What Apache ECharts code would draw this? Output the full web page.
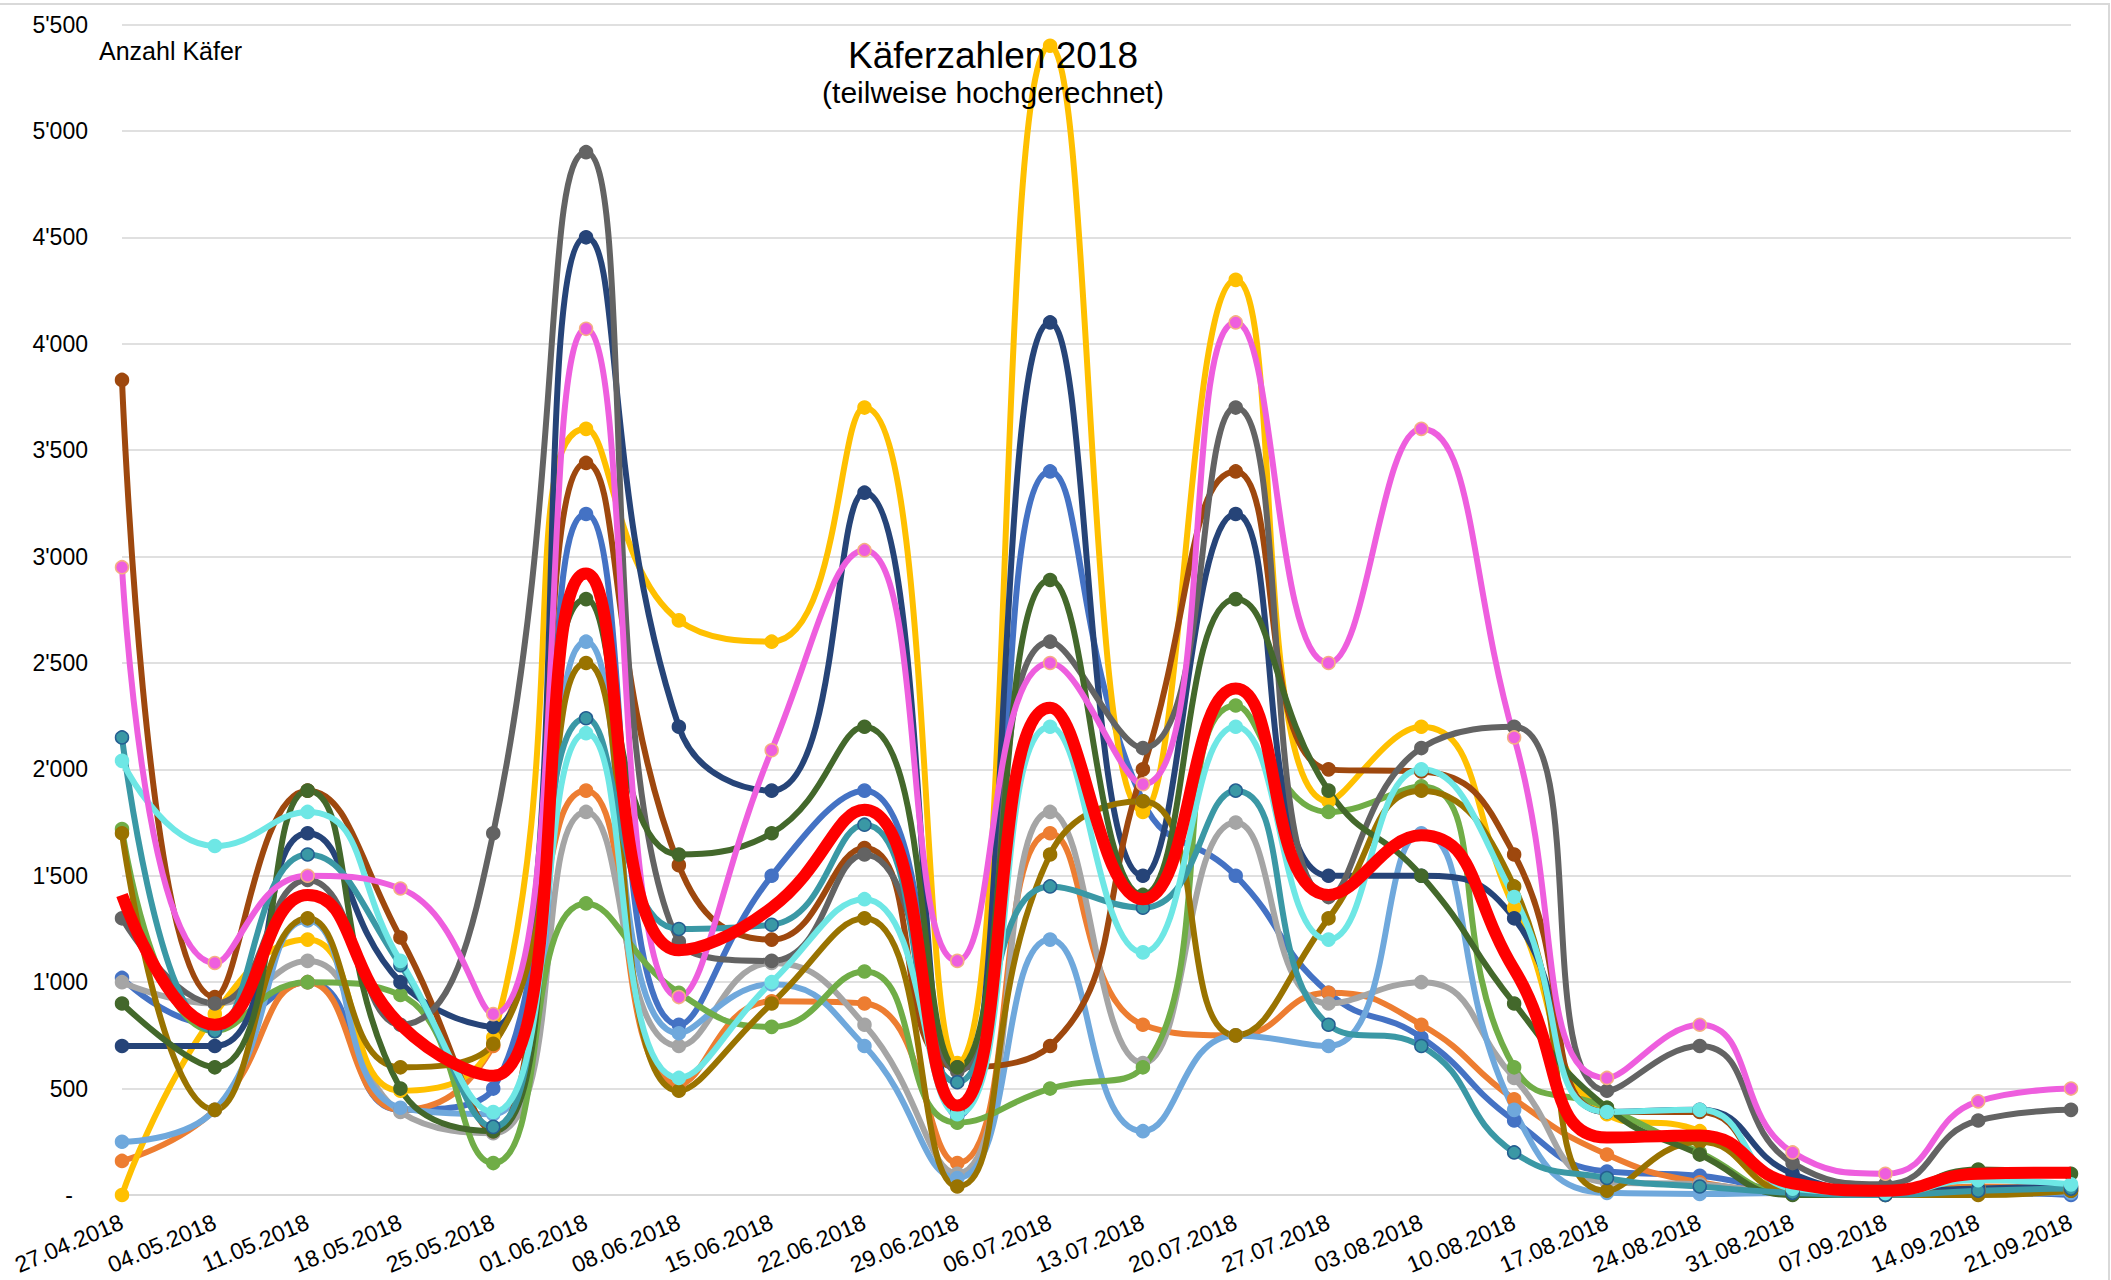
<!DOCTYPE html>
<html>
<head>
<meta charset="utf-8">
<title>Käferzahlen 2018</title>
<script src="https://cdn.jsdelivr.net/npm/echarts@6/dist/echarts.min.js"></script>
<style>
  html, body { margin: 0; padding: 0; background: #fff; }
  #chart { width: 2111px; height: 1280px; }
</style>
</head>
<body>
<div id="chart"></div>
<script>
// Sammeldaten, wöchentlich
const dates = ['27.04.2018', '04.05.2018', '11.05.2018', '18.05.2018', '25.05.2018', '01.06.2018',
  '08.06.2018', '15.06.2018', '22.06.2018', '29.06.2018', '06.07.2018', '13.07.2018', '20.07.2018',
  '27.07.2018', '03.08.2018', '10.08.2018', '17.08.2018', '24.08.2018', '31.08.2018', '07.09.2018',
  '14.09.2018', '21.09.2018'];

const blue   = [1020, 800, 1000, 400, 500, 3200, 800, 1500, 1900, 370, 3400, 1850, 1500, 950, 740, 350, 110, 90, 20, 10, 10, 0];
const orange = [160, 400, 1000, 400, 700, 1900, 520, 910, 900, 150, 1700, 800, 750, 950, 800, 450, 190, 60, 20, 10, 40, 30];
const lgrey  = [1000, 900, 1100, 390, 290, 1800, 700, 1090, 800, 100, 1800, 620, 1750, 900, 1000, 550, 60, 50, 10, 10, 30, 40];
const gold   = [0, 850, 1200, 490, 740, 3600, 2700, 2600, 3700, 620, 5400, 1800, 4300, 1850, 2200, 1350, 380, 300, 20, 10, 30, 20];
const lblue  = [250, 400, 1290, 410, 380, 2600, 760, 990, 700, 80, 1200, 300, 750, 700, 1700, 400, 10, 5, 10, 0, 10, 10];
const green  = [1720, 770, 1000, 940, 150, 1370, 950, 790, 1050, 340, 500, 600, 2300, 1800, 1920, 600, 410, 200, 10, 10, 20, 30];
const navy   = [700, 700, 1700, 1000, 790, 4500, 2200, 1900, 3300, 400, 4100, 1500, 3200, 1500, 1500, 1300, 390, 400, 100, 20, 30, 40];
const brown  = [3830, 930, 1900, 1210, 300, 3440, 1550, 1200, 1630, 600, 700, 2000, 3400, 2000, 1990, 1600, 390, 390, 30, 10, 10, 20];
const dgrey  = [1300, 900, 1480, 800, 1700, 4900, 1190, 1100, 1600, 580, 2600, 2100, 3700, 1400, 2100, 2200, 490, 700, 150, 50, 350, 400];
const olive  = [1700, 400, 1300, 600, 710, 2500, 490, 900, 1300, 40, 1600, 1850, 750, 1300, 1900, 1450, 20, 250, 10, 0, 0, 20];
const dgreen = [900, 600, 1900, 500, 300, 2800, 1600, 1700, 2200, 600, 2890, 1410, 2800, 1900, 1500, 900, 410, 190, 0, 10, 120, 100];
const teal   = [2150, 770, 1600, 1080, 320, 2240, 1250, 1270, 1740, 530, 1450, 1350, 1900, 800, 700, 200, 80, 40, 10, 0, 20, 30];
const cyan   = [2040, 1640, 1800, 1100, 390, 2170, 550, 1000, 1390, 380, 2200, 1140, 2200, 1200, 2000, 1400, 390, 400, 30, 10, 70, 50];
const pink   = [2950, 1090, 1500, 1440, 850, 4070, 930, 2090, 3030, 1100, 2500, 1930, 4100, 2500, 3600, 2150, 550, 800, 200, 100, 440, 500];
const mean   = [1410, 800, 1410, 800, 560, 2920, 1150, 1350, 1810, 420, 2290, 1390, 2380, 1410, 1690, 1060, 270, 280, 55, 20, 100, 105];

// [name, data, colour, marker border]
const traps = [
  ['Falle 1', blue, '#4472C4', '#4472C4'],
  ['Falle 2', orange, '#ED7D31', '#ED7D31'],
  ['Falle 3', lgrey, '#A5A5A5', '#A5A5A5'],
  ['Falle 4', gold, '#FFC000', '#FFC000'],
  ['Falle 5', lblue, '#6FA8DC', '#6FA8DC'],
  ['Falle 6', green, '#70AD47', '#70AD47'],
  ['Falle 7', navy, '#264478', '#264478'],
  ['Falle 8', brown, '#9E480E', '#9E480E'],
  ['Falle 9', dgrey, '#636363', '#636363'],
  ['Falle 10', olive, '#997300', '#997300'],
  ['Falle 11', dgreen, '#43682B', '#43682B'],
  ['Falle 12', teal, '#3A98A5', '#255E91'],
  ['Falle 13', cyan, '#6EE7E5', '#6EE7E5'],
  ['Falle 14', pink, '#EE5EDE', '#F4B183']
];

const font = "'Liberation Sans', Arial, sans-serif";

const series = traps.map(([name, data, color, border]) => ({
  name: name,
  type: 'line',
  data: data,
  smooth: 0.5,
  symbol: 'circle',
  symbolSize: 13,
  lineStyle: { color: color, width: 6 },
  itemStyle: { color: color, borderColor: border, borderWidth: 1.5 }
}));
series.push({
  name: 'Durchschnitt',
  type: 'line',
  data: mean,
  smooth: 0.5,
  showSymbol: false,
  lineStyle: { color: '#FF0000', width: 12 },
  itemStyle: { color: '#FF0000' },
  z: 5
});

const chart = echarts.init(document.getElementById('chart'), null, { renderer: 'svg' });
chart.setOption({
  backgroundColor: '#fff',
  animation: false,
  textStyle: { fontFamily: font },
  title: {
    text: 'Käferzahlen 2018',
    subtext: '(teilweise hochgerechnet)',
    left: 993,
    top: 37,
    textAlign: 'center',
    padding: 0,
    itemGap: 3,
    textStyle: { fontFamily: font, fontSize: 37, fontWeight: 'normal', color: '#000' },
    subtextStyle: { fontFamily: font, fontSize: 30, color: '#000' }
  },
  graphic: [
    {
      type: 'rect', silent: true, z: -10,
      shape: { x: -5, y: 4, width: 2114, height: 1300 },
      style: { fill: 'none', stroke: '#d9d9d9', lineWidth: 2 }
    },
    {
      type: 'text', left: 99, top: 38,
      style: { text: 'Anzahl Käfer', font: '25px ' + font, fill: '#000' }
    }
  ],
  grid: { left: 122, right: 40, top: 24.5, bottom: 85, containLabel: false },
  xAxis: {
    type: 'category',
    data: dates,
    boundaryGap: false,
    axisLine: { lineStyle: { color: '#d9d9d9', width: 2 } },
    axisTick: { show: false },
    axisLabel: { rotate: 23, margin: 26, fontSize: 23, color: '#000', interval: 0 }
  },
  yAxis: {
    type: 'value',
    min: 0,
    max: 5500,
    interval: 500,
    axisLine: { show: false },
    axisTick: { show: false },
    splitLine: { lineStyle: { color: '#e0e0e0', width: 2 } },
    axisLabel: {
      fontSize: 23, color: '#000', margin: 34,
      formatter: v => v === 0 ? '{z|-}' : String(v).replace(/\B(?=(\d{3})+(?!\d))/g, "'"),
      rich: { z: { fontSize: 23, padding: [0, 15, 0, 0], color: '#000' } }
    }
  },
  series: series
});
</script>
</body>
</html>
